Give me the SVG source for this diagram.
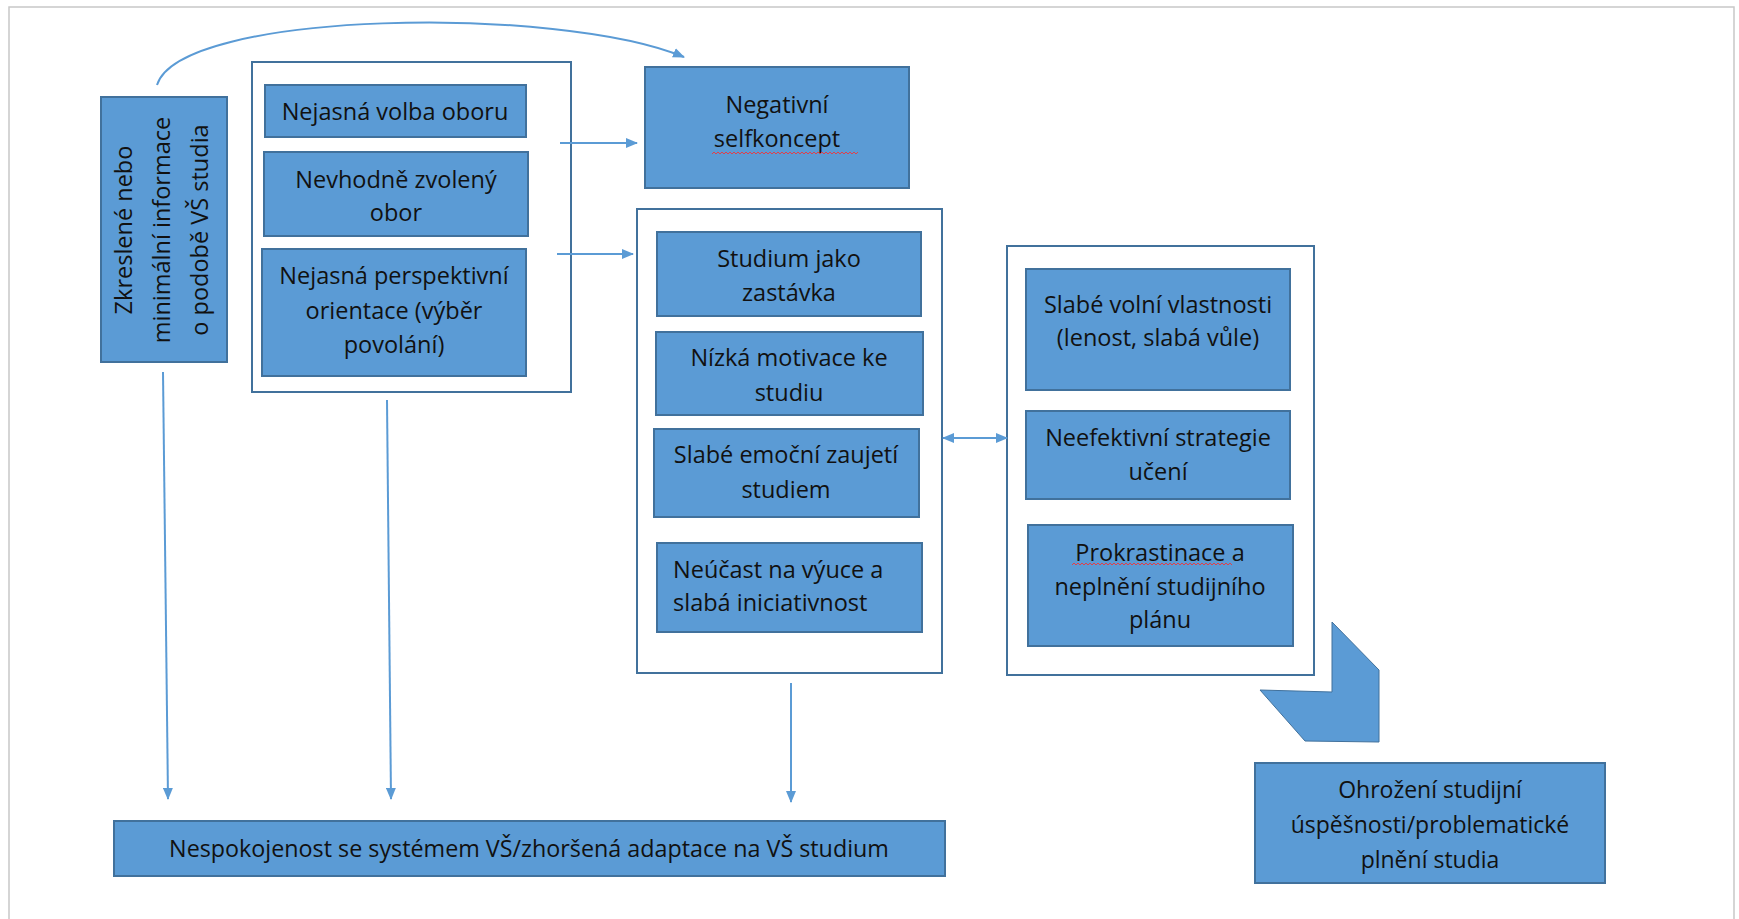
<svg xmlns="http://www.w3.org/2000/svg" width="1739" height="919" viewBox="0 0 1739 919">
<style>
.box{fill:#5b9bd5;stroke:#41719c;stroke-width:2}
.grp{fill:#ffffff;stroke:#41719c;stroke-width:2}
.t{font-family:"Open Sans","Noto Sans","DejaVu Sans",sans-serif;font-size:23.5px;fill:#111111;text-anchor:middle}
.tl{text-anchor:start}
.s23{font-size:23px}
.s233{font-size:23.3px}
.c{fill:none;stroke:#5b9bd5;stroke-width:2}
.sp{fill:none;stroke:#e0404a;stroke-width:1}
.page{fill:none;stroke:#c8c8c8;stroke-width:1.5}
</style>
<defs>
<marker id="ah" viewBox="0 0 12 10" refX="11" refY="5" markerWidth="12" markerHeight="10" markerUnits="userSpaceOnUse" orient="auto-start-reverse">
<path d="M0,0 L12,5 L0,10 z" fill="#5b9bd5"/>
</marker>
</defs>
<rect width="1739" height="919" fill="#ffffff"/>
<path class="page" d="M9,919 L9,7 L1734,7 L1734,919"/>

<g id="n-zkreslene">
<rect class="box" x="101" y="97" width="126" height="265"/>
<text class="t" transform="translate(132,230) rotate(-90)">Zkreslené nebo</text>
<text class="t" transform="translate(170,230) rotate(-90)">minimální informace</text>
<text class="t" transform="translate(208,230) rotate(-90)">o podobě VŠ studia</text>
</g>

<g id="g-volba">
<rect class="grp" x="252" y="62" width="319" height="330"/>
</g>
<g id="n-nejasna-volba">
<rect class="box" x="265" y="85" width="261" height="52"/>
<text class="t" x="395" y="120">Nejasná volba oboru</text>
</g>
<g id="n-nevhodne">
<rect class="box" x="264" y="152" width="264" height="84"/>
<text class="t" x="396" y="188">Nevhodně zvolený</text>
<text class="t" x="396" y="221">obor</text>
</g>
<g id="n-perspektivni">
<rect class="box" x="262" y="249" width="264" height="127"/>
<text class="t" x="394" y="284">Nejasná perspektivní</text>
<text class="t" x="394" y="319">orientace (výběr</text>
<text class="t" x="394" y="353">povolání)</text>
</g>

<g id="n-selfkoncept">
<rect class="box" x="645" y="67" width="264" height="121"/>
<text class="t" x="777" y="113">Negativní</text>
<text class="t" x="777" y="147">selfkoncept</text>
<path class="sp" d="M712,154 l2,-2 l2,2 l2,-2 l2,2 l2,-2 l2,2 l2,-2 l2,2 l2,-2 l2,2 l2,-2 l2,2 l2,-2 l2,2 l2,-2 l2,2 l2,-2 l2,2 l2,-2 l2,2 l2,-2 l2,2 l2,-2 l2,2 l2,-2 l2,2 l2,-2 l2,2 l2,-2 l2,2 l2,-2 l2,2 l2,-2 l2,2 l2,-2 l2,2 l2,-2 l2,2 l2,-2 l2,2 l2,-2 l2,2 l2,-2 l2,2 l2,-2 l2,2 l2,-2 l2,2 l2,-2 l2,2 l2,-2 l2,2 l2,-2 l2,2 l2,-2 l2,2 l2,-2 l2,2 l2,-2 l2,2 l2,-2 l2,2 l2,-2 l2,2 l2,-2 l2,2 l2,-2 l2,2 l2,-2 l2,2 l2,-2 l2,2 l2,-2"/>
</g>

<g id="g-studium">
<rect class="grp" x="637" y="209" width="305" height="464"/>
</g>
<g id="n-zastavka">
<rect class="box" x="657" y="232" width="264" height="84"/>
<text class="t" x="789" y="267">Studium jako</text>
<text class="t" x="789" y="301">zastávka</text>
</g>
<g id="n-motivace">
<rect class="box" x="656" y="332" width="267" height="83"/>
<text class="t" x="789" y="366">Nízká motivace ke</text>
<text class="t" x="789" y="401">studiu</text>
</g>
<g id="n-emocni">
<rect class="box" x="654" y="429" width="265" height="88"/>
<text class="t" x="786" y="463">Slabé emoční zaujetí</text>
<text class="t" x="786" y="498">studiem</text>
</g>
<g id="n-neucast">
<rect class="box" x="657" y="543" width="265" height="89"/>
<text class="t tl" x="673" y="578">Neúčast na výuce a</text>
<text class="t tl" x="673" y="611">slabá iniciativnost</text>
</g>

<g id="g-vlastnosti">
<rect class="grp" x="1007" y="246" width="307" height="429"/>
</g>
<g id="n-volni">
<rect class="box" x="1026" y="269" width="264" height="121"/>
<text class="t" x="1158" y="313">Slabé volní vlastnosti</text>
<text class="t" x="1158" y="346">(lenost, slabá vůle)</text>
</g>
<g id="n-strategie">
<rect class="box" x="1026" y="411" width="264" height="88"/>
<text class="t" x="1158" y="446">Neefektivní strategie</text>
<text class="t" x="1158" y="480">učení</text>
</g>
<g id="n-prokrastinace">
<rect class="box" x="1028" y="525" width="265" height="121"/>
<text class="t" x="1160" y="561">Prokrastinace a</text>
<text class="t" x="1160" y="595">neplnění studijního</text>
<text class="t" x="1160" y="628">plánu</text>
<path class="sp" d="M1072,565 l2,-2 l2,2 l2,-2 l2,2 l2,-2 l2,2 l2,-2 l2,2 l2,-2 l2,2 l2,-2 l2,2 l2,-2 l2,2 l2,-2 l2,2 l2,-2 l2,2 l2,-2 l2,2 l2,-2 l2,2 l2,-2 l2,2 l2,-2 l2,2 l2,-2 l2,2 l2,-2 l2,2 l2,-2 l2,2 l2,-2 l2,2 l2,-2 l2,2 l2,-2 l2,2 l2,-2 l2,2 l2,-2 l2,2 l2,-2 l2,2 l2,-2 l2,2 l2,-2 l2,2 l2,-2 l2,2 l2,-2 l2,2 l2,-2 l2,2 l2,-2 l2,2 l2,-2 l2,2 l2,-2 l2,2 l2,-2 l2,2 l2,-2 l2,2 l2,-2 l2,2 l2,-2 l2,2 l2,-2 l2,2 l2,-2 l2,2 l2,-2 l2,2 l2,-2 l2,2 l2,-2 l2,2 l2,-2 l2,2"/>
</g>

<g id="n-nespokojenost">
<rect class="box" x="114" y="821" width="831" height="55"/>
<text class="t s233" x="529" y="857">Nespokojenost se systémem VŠ/zhoršená adaptace na VŠ studium</text>
</g>

<g id="n-ohrozeni">
<rect class="box" x="1255" y="763" width="350" height="120"/>
<text class="t s23" x="1430" y="798">Ohrožení studijní</text>
<text class="t s23" x="1430" y="833">úspěšnosti/problematické</text>
<text class="t s23" x="1430" y="868">plnění studia</text>
</g>

<g id="connectors">
<path class="c" d="M157,85 C180,10 560,5 684,57" marker-end="url(#ah)"/>
<line class="c" x1="560" y1="143" x2="637" y2="143" marker-end="url(#ah)"/>
<line class="c" x1="557" y1="254" x2="633" y2="254" marker-end="url(#ah)"/>
<line class="c" x1="943" y1="438" x2="1007" y2="438" marker-start="url(#ah)" marker-end="url(#ah)"/>
<line class="c" x1="163" y1="372" x2="168" y2="799" marker-end="url(#ah)"/>
<line class="c" x1="387" y1="400" x2="391" y2="799" marker-end="url(#ah)"/>
<line class="c" x1="791" y1="683" x2="791" y2="802" marker-end="url(#ah)"/>
<polygon id="chevron" points="1332,622 1379,670 1379,742 1305,741 1260,690 1332,692" fill="#5b9bd5" stroke="#41719c" stroke-width="1"/>
</g>
</svg>
